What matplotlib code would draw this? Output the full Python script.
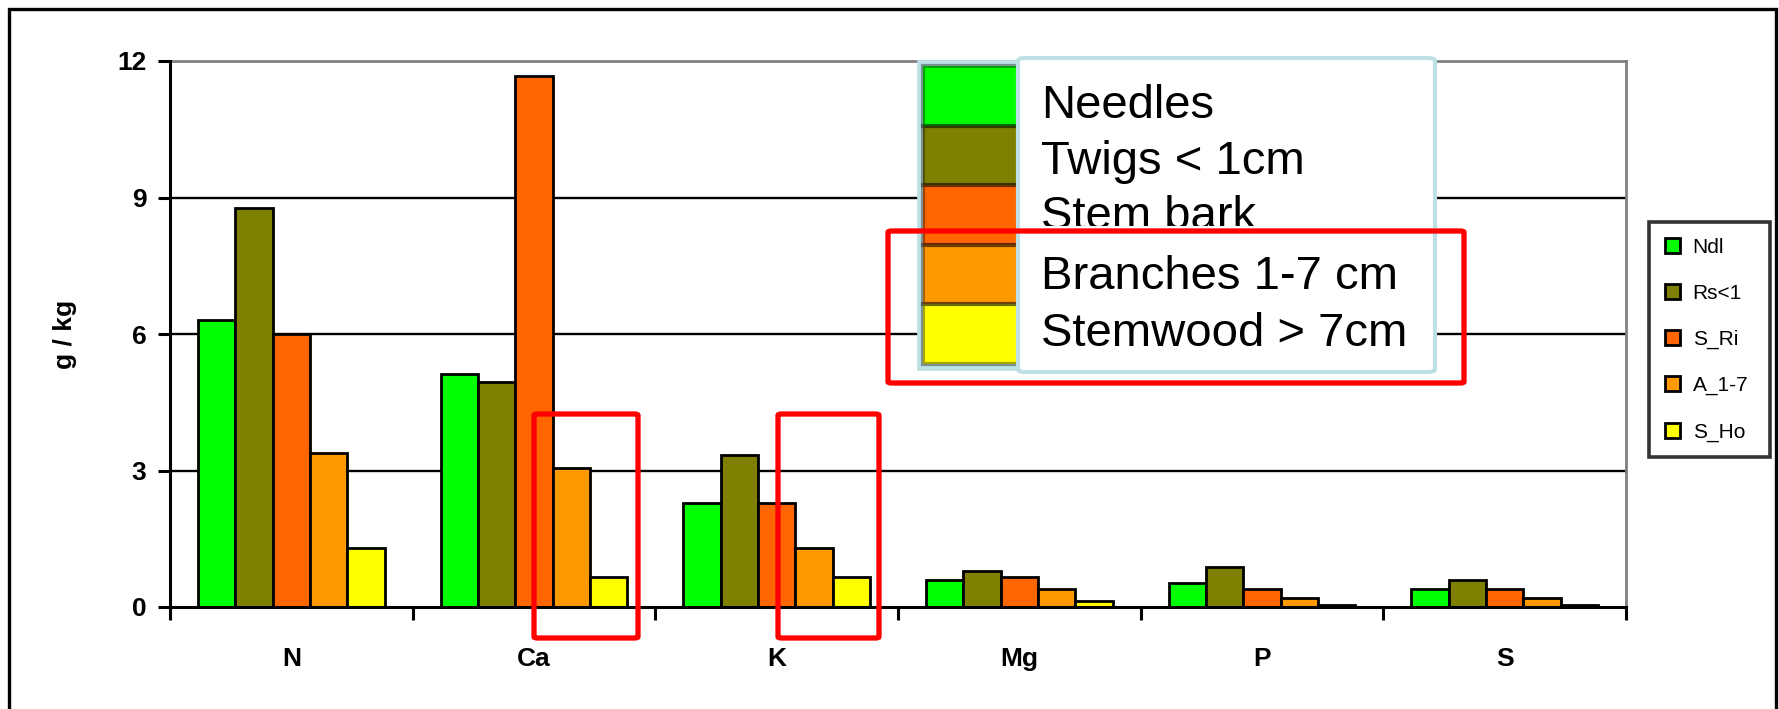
import matplotlib
matplotlib.use("Agg")
import matplotlib.pyplot as plt
import numpy as np
from matplotlib.patches import Rectangle, FancyBboxPatch
from matplotlib.transforms import Bbox

plt.rcParams['font.family'] = ['Liberation Sans', 'DejaVu Sans']

# data
elements = ['N', 'Ca', 'K', 'Mg', 'P', 'S']
series = ['Ndl', 'Rs<1', 'S_Ri', 'A_1-7', 'S_Ho']
ndl = [6.30, 5.13, 2.28, 0.59, 0.53, 0.39]
rs1 = [8.77, 4.95, 3.34, 0.80, 0.87, 0.60]
s_ri = [6.00, 11.68, 2.28, 0.66, 0.39, 0.39]
a_17 = [3.38, 3.05, 1.30, 0.39, 0.19, 0.19]
s_ho = [1.30, 0.66, 0.66, 0.13, 0.05, 0.05]
colors = ['#00ff00', '#808000', '#ff6600', '#ff9900', '#ffff00']
overlay_labels = ['Needles', 'Twigs < 1cm', 'Stem bark', 'Branches 1-7 cm', 'Stemwood > 7cm']

W, H = 1779, 709
fig = plt.figure(figsize=(W / 100, H / 100), dpi=100)
fig.patch.set_facecolor('white')


def fx(px):
    return px / W


def fy(py):
    return 1 - py / H


ax = fig.add_axes([fx(170), fy(607), fx(1626) - fx(170), fy(61) - fy(607)])

x = np.arange(len(elements))
bw = 0.154
for i, vals in enumerate([ndl, rs1, s_ri, a_17, s_ho]):
    ax.bar(x + (i - 2) * bw, vals, bw, color=colors[i], edgecolor='black',
           linewidth=2.0, zorder=3, label=series[i])

ax.set_xlim(-0.5, len(elements) - 0.5)
ax.set_ylim(0, 12)
ax.set_yticks([0, 3, 6, 9, 12])
ax.set_xticks(x)
ax.set_xticklabels(elements, fontsize=19, fontweight='bold')
ax.set_xticks(np.arange(-0.5, len(elements)), minor=True)
ax.tick_params(axis='x', which='major', length=0, pad=29)
ax.tick_params(axis='x', which='minor', length=9, width=2.2, direction='out')
ax.tick_params(axis='y', length=9, width=2.2, direction='out', pad=8, labelsize=19)
for t in ax.get_yticklabels():
    t.set_fontweight('bold')

for g in [3, 6, 9]:
    ax.axhline(g, color='black', linewidth=1.7, zorder=1)

for s in ['left', 'bottom']:
    ax.spines[s].set_linewidth(2.2)
    ax.spines[s].set_zorder(4)
for s in ['top', 'right']:
    ax.spines[s].set_color('#808080')
    ax.spines[s].set_linewidth(2.0)

fig.text(fx(65), fy(334), 'g / kg', rotation=90, ha='center', va='center',
         fontsize=19, fontweight='bold')

leg = ax.legend(loc='upper left', bbox_to_anchor=(fx(1649), fy(450), fx(1770) - fx(1649), fy(222) - fy(450)),
                bbox_transform=fig.transFigure, mode='expand', fontsize=15, frameon=True,
                fancybox=False, edgecolor='black', handlelength=0.75, handleheight=0.75,
                handletextpad=0.6, labelspacing=1.3, borderpad=0.75, borderaxespad=0)
leg.get_frame().set_linewidth(2.6)

# outer chart frame
fig.patches.append(Rectangle((fx(9), -0.1), fx(1776) - fx(9), fy(9) + 0.1, transform=fig.transFigure,
                             fill=False, edgecolor='black', linewidth=2.4))

# pasted legend picture on top of the chart
cyan = '#bce0e4'
fig.patches.append(Rectangle((fx(918), fy(369)), fx(1023) - fx(918), fy(61) - fy(369),
                             transform=fig.transFigure, facecolor=cyan, edgecolor=cyan,
                             linewidth=2, zorder=5))
top, bottom = 66, 364
band = (bottom - top) / len(colors)
for i, c in enumerate(colors):
    y0 = top + i * band
    fig.patches.append(Rectangle((fx(923), fy(y0 + band)), fx(1019) - fx(923), fy(y0) - fy(y0 + band),
                                 transform=fig.transFigure, facecolor=c, edgecolor='none', zorder=6))
    fig.patches.append(Rectangle((fx(923), fy(y0 + band)), fx(1019) - fx(923), fy(y0) - fy(y0 + band),
                                 transform=fig.transFigure, facecolor='none', edgecolor=(0, 0, 0, 0.35),
                                 linewidth=3, zorder=6.5))
fig.patches.append(FancyBboxPatch((fx(1018), fy(372)), fx(1435) - fx(1018), fy(58) - fy(372),
                                  boxstyle='round,pad=0,rounding_size=0.004', transform=fig.transFigure,
                                  facecolor='white', edgecolor=cyan, linewidth=3, zorder=7))
text_y = [106, 162, 217, 277, 334]
for lab, ty in zip(overlay_labels, text_y):
    t = fig.text(fx(1041), fy(ty), lab, fontsize=34, ha='left', va='center', zorder=8)
    if lab == 'Stem bark':
        # the pasted picture cuts this line off at its bottom
        t.set_clip_box(Bbox.from_extents(1018, H - 226, 1435, H - 58))

# red highlight boxes
for (x0, y0, x1, y1) in [(534, 414, 638, 638), (778, 414, 879, 638), (888, 231, 1464, 383)]:
    fig.patches.append(FancyBboxPatch((fx(x0), fy(y1)), fx(x1) - fx(x0), fy(y0) - fy(y1),
                                      boxstyle='round,pad=0,rounding_size=0.002', transform=fig.transFigure,
                                      facecolor='none', edgecolor='#ff0000', linewidth=3.8, zorder=9))

fig.savefig('out.png', dpi=100)
